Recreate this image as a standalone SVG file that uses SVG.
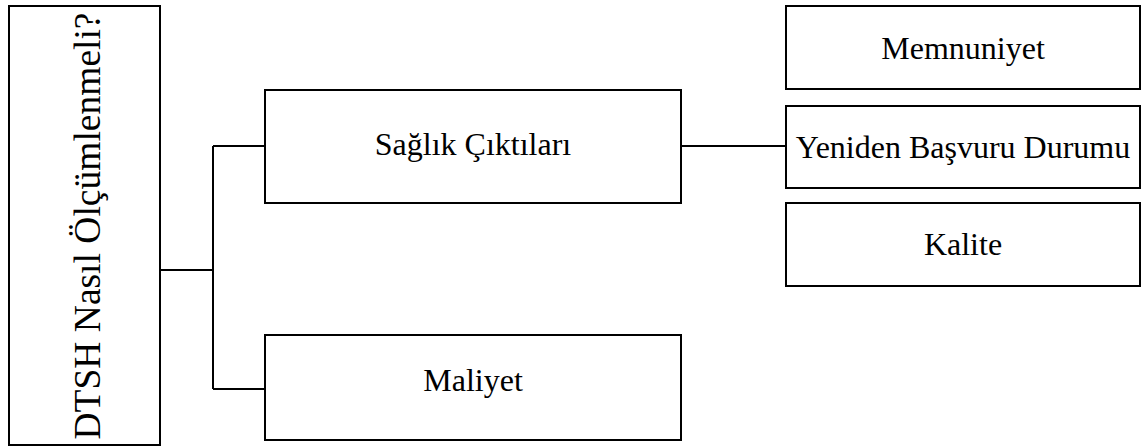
<svg xmlns="http://www.w3.org/2000/svg" width="1141" height="448" viewBox="0 0 1141 448">
  <style>
    .box { fill: #ffffff; stroke: #000000; stroke-width: 2; }
    .lbl { font-family: "Liberation Serif", "Times New Roman", serif; font-size: 32px; fill: #000000; text-anchor: middle; }
    .title { font-size: 37.5px; }
    .wire { fill: none; stroke: #000000; stroke-width: 2; }
  </style>
  <rect width="1141" height="448" fill="#ffffff"/>

  <g id="connectors">
    <path class="wire" d="M160,270 H213 M213,146 V389 M213,146 H265 M213,389 H265"/>
    <path class="wire" d="M681,146 H786"/>
  </g>

  <g id="root">
    <rect class="box" x="9" y="6" width="151" height="439"/>
    <text class="lbl title" transform="translate(100,226) rotate(-90)">DTSH Nasıl Ölçümlenmeli?</text>
  </g>

  <g id="saglik">
    <rect class="box" x="265" y="90" width="416" height="113"/>
    <text class="lbl" x="473" y="155">Sağlık Çıktıları</text>
  </g>

  <g id="maliyet">
    <rect class="box" x="265" y="335" width="416" height="105"/>
    <text class="lbl" x="473" y="391">Maliyet</text>
  </g>

  <g id="memnuniyet">
    <rect class="box" x="786" y="6" width="354" height="83"/>
    <text class="lbl" x="963" y="59">Memnuniyet</text>
  </g>

  <g id="yeniden">
    <rect class="box" x="786" y="106" width="354" height="82"/>
    <text class="lbl" x="963" y="158">Yeniden Başvuru Durumu</text>
  </g>

  <g id="kalite">
    <rect class="box" x="786" y="203" width="354" height="83"/>
    <text class="lbl" x="963" y="255">Kalite</text>
  </g>
</svg>
